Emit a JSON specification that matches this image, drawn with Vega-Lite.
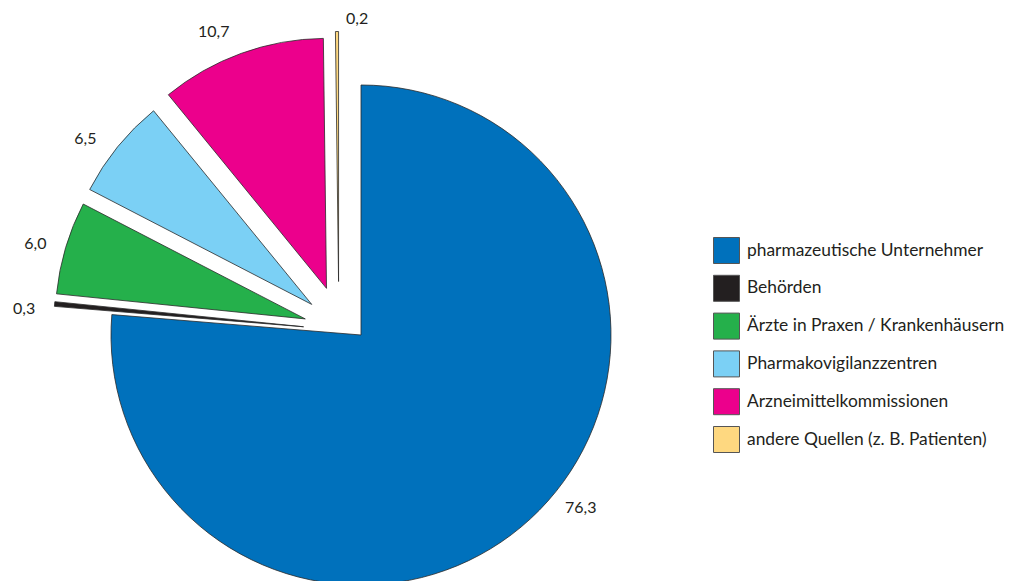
{
  "$schema": "https://vega.github.io/schema/vega-lite/v6.json",
  "width": 722,
  "height": 492,
  "autosize": "none",
  "padding": {"left": 0, "top": 89, "right": 293, "bottom": 0},
  "background": "white",
  "config": {"view": {"stroke": null}},
  "data": {
    "values": [
      {"quelle": "pharmazeutische Unternehmer", "anteil": 76.3, "label": "76,3", "order": 1},
      {"quelle": "Behörden", "anteil": 0.3, "label": "0,3", "order": 2},
      {"quelle": "Ärzte in Praxen / Krankenhäusern", "anteil": 6.0, "label": "6,0", "order": 3},
      {"quelle": "Pharmakovigilanzzentren", "anteil": 6.5, "label": "6,5", "order": 4},
      {"quelle": "Arzneimittelkommissionen", "anteil": 10.7, "label": "10,7", "order": 5},
      {"quelle": "andere Quellen (z. B. Patienten)", "anteil": 0.2, "label": "0,2", "order": 6}
    ]
  },
  "encoding": {
    "theta": {"field": "anteil", "type": "quantitative", "stack": true},
    "order": {"field": "order", "type": "quantitative"}
  },
  "layer": [
    {
      "mark": {
        "type": "arc",
        "radius": 250,
        "stroke": "#2a2a2a",
        "strokeWidth": 0.8,
        "xOffset": {"expr": "datum.order == 1 ? 0 : 58*sin(0.7*PI*(datum.anteil_start+datum.anteil_end)/100 + 1.4923)"},
        "yOffset": {"expr": "datum.order == 1 ? 0 : -58*cos(0.7*PI*(datum.anteil_start+datum.anteil_end)/100 + 1.4923)"}
      },
      "encoding": {
        "color": {
          "field": "quelle",
          "type": "nominal",
          "scale": {
            "domain": ["pharmazeutische Unternehmer", "Behörden", "Ärzte in Praxen / Krankenhäusern", "Pharmakovigilanzzentren", "Arzneimittelkommissionen", "andere Quellen (z. B. Patienten)"],
            "range": ["#0071bc", "#231f20", "#25b04b", "#7bd0f5", "#ec008c", "#fed880"]
          },
          "legend": {
            "orient": "none",
            "legendX": 713,
            "legendY": 148,
            "title": null,
            "symbolType": "square",
            "symbolSize": 676,
            "symbolStrokeColor": "#555555",
            "symbolStrokeWidth": 1,
            "symbolOpacity": 1,
            "labelFont": "Lato",
            "labelFontSize": 17.4,
            "labelColor": "#231f20",
            "labelOffset": 7,
            "labelLimit": 0,
            "rowPadding": 6.8,
            "padding": 0
          }
        }
      }
    },
    {
      "mark": {
        "type": "text",
        "radius": {"expr": "datum.order == 6 ? 263 : 280"},
        "font": "Lato",
        "fontSize": 16,
        "color": "#231f20",
        "thetaOffset": {"expr": "datum.order == 1 ? -0.158 : datum.order == 2 ? -0.028 : datum.order == 3 ? -0.02 : datum.order == 4 ? -0.052 : datum.order == 5 ? -0.066 : 0.077"},
        "xOffset": {"expr": "datum.order == 1 ? 0 : 58*sin(0.7*PI*(datum.anteil_start+datum.anteil_end)/100 + 1.4923)"},
        "yOffset": {"expr": "datum.order == 1 ? 0 : -58*cos(0.7*PI*(datum.anteil_start+datum.anteil_end)/100 + 1.4923)"}
      },
      "encoding": {
        "text": {"field": "label", "type": "nominal"}
      }
    }
  ]
}
